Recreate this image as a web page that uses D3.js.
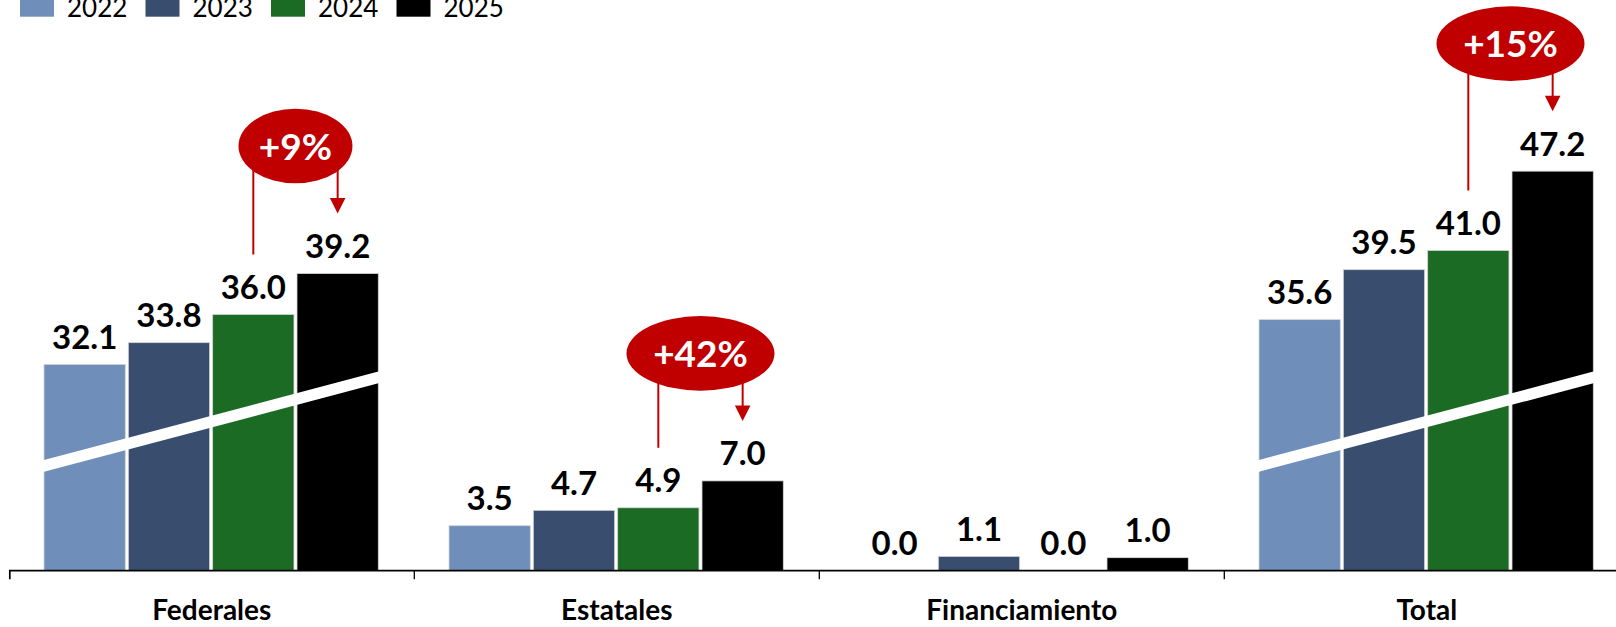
<!DOCTYPE html>
<html><head><meta charset="utf-8">
<script src="https://cdn.jsdelivr.net/npm/d3@7"></script>
<style>html,body{margin:0;padding:0;background:#fff;overflow:hidden}</style>
</head><body><svg id="chart" width="1616" height="627"></svg>
<script>
// ---- data ----
const categories = ["Federales", "Estatales", "Financiamiento", "Total"];
const years = ["2022", "2023", "2024", "2025"];
const values2022 = [32.1, 3.5, 0.0, 35.6];
const values2023 = [33.8, 4.7, 1.1, 39.5];
const values2024 = [36.0, 4.9, 0.0, 41.0];
const values2025 = [39.2, 7.0, 1.0, 47.2];
const growthLabels = ["+9%", "+42%", null, "+15%"];
const brokenCategories = ["Federales", "Total"];
const breakGap = 16; // units hidden by the axis break

const seriesValues = { "2022": values2022, "2023": values2023, "2024": values2024, "2025": values2025 };
const colors = { "2022": "#6F8FBA", "2023": "#394E6F", "2024": "#1B6B24", "2025": "#000000" };
const red = "#C00000";
const FONT = "Lato, 'Open Sans', sans-serif";

const svg = d3.select("#chart");
const W = 1616, H = 627;
const baseY = 570.5, pxPerUnit = 12.8;

const x0 = d3.scaleBand().domain(categories).range([9.3, 1629.3]);
const x1 = d3.scaleBand().domain(years).range([34.7, 369]).paddingInner(0.036);
const y = d3.scaleLinear().domain([0, 44]).range([baseY, baseY - 44 * pxPerUnit]);
const shown = (v, cat) => brokenCategories.includes(cat) ? v - breakGap : v;

const rows = [];
categories.forEach((c, ci) => years.forEach(yr => rows.push({ cat: c, year: yr, value: seriesValues[yr][ci] })));

// bars
svg.append("g").selectAll("rect").data(rows).join("rect")
  .attr("x", d => x0(d.cat) + x1(d.year))
  .attr("width", x1.bandwidth())
  .attr("y", d => y(shown(d.value, d.cat)))
  .attr("height", d => y(0) - y(shown(d.value, d.cat)))
  .attr("fill", d => colors[d.year])
  .attr("stroke", "#d4d4d4").attr("stroke-width", 0.8);

// axis break strips
const half = 5.85;
svg.append("g").selectAll("polygon").data(brokenCategories).join("polygon")
  .attr("points", c => {
    const xl = x0(c) + x1(years[0]) - 1, xr = x0(c) + x1(years[years.length - 1]) + x1.bandwidth() + 1;
    const yl = y(8.16), yr = y(15.1);
    return [[xl, yl - half], [xr, yr - half], [xr, yr + half], [xl, yl + half]].map(p => p.join(",")).join(" ");
  })
  .attr("fill", "#fff");

// value labels
svg.append("g").selectAll("text").data(rows).join("text")
  .attr("x", d => x0(d.cat) + x1(d.year) + x1.bandwidth() / 2)
  .attr("y", d => y(shown(d.value, d.cat)) - 15.5)
  .attr("text-anchor", "middle")
  .style("font-family", FONT).style("font-weight", "bold").style("font-size", "33px")
  .attr("fill", "#000")
  .text(d => d3.format(".1f")(d.value));

// axis
const axis = d3.axisBottom(x0).tickSizeInner(0).tickSizeOuter(9).tickPadding(0);
const ag = svg.append("g").attr("transform", `translate(0,${570.2})`).call(axis);
ag.select(".domain").attr("stroke", "#000").attr("stroke-width", 1.7);
ag.selectAll(".tick text").attr("y", 49.8).attr("dy", 0)
  .style("font-family", FONT).style("font-weight", "bold").style("font-size", "28px").attr("fill", "#000");
ag.selectAll(".tick line").remove();
ag.append("g").selectAll("line").data(categories.slice(1)).join("line")
  .attr("x1", c => x0(c)).attr("x2", c => x0(c))
  .attr("y1", 0).attr("y2", 9)
  .attr("stroke", "#000").attr("stroke-width", 1.3);

// growth annotations
const ann = svg.append("g");
categories.forEach((c, ci) => {
  const lbl = growthLabels[ci];
  if (!lbl) return;
  const bw = x1.bandwidth();
  const xa = x0(c) + x1("2024") + bw / 2, xb = x0(c) + x1("2025") + bw / 2;
  const endA = y(shown(values2024[ci], c)) - 60;
  const tip = y(shown(values2025[ci], c)) - 60;
  const cy = tip - 67.5, cx = (xa + xb) / 2;
  const rx = lbl.length > 3 ? 74 : 57, ry = 37.3;
  ann.append("line").attr("x1", xa).attr("x2", xa).attr("y1", cy).attr("y2", endA)
    .attr("stroke", red).attr("stroke-width", 2);
  ann.append("line").attr("x1", xb).attr("x2", xb).attr("y1", cy).attr("y2", tip - 14)
    .attr("stroke", red).attr("stroke-width", 2);
  ann.append("polygon").attr("points", `${xb - 7.8},${tip - 15.5} ${xb + 7.8},${tip - 15.5} ${xb},${tip}`)
    .attr("fill", red);
  ann.append("ellipse").attr("cx", cx).attr("cy", cy).attr("rx", rx).attr("ry", ry).attr("fill", red);
  ann.append("text").attr("x", cx).attr("y", cy + 13.5).attr("text-anchor", "middle")
    .style("font-family", FONT).style("font-weight", "bold").style("font-size", "37px")
    .attr("fill", "#fff").text(lbl);
});

// legend
const lg = svg.append("g").selectAll("g").data(years).join("g")
  .attr("transform", (d, i) => `translate(${20 + i * 125.5},0)`);
lg.append("rect").attr("x", 0).attr("y", -12).attr("width", 34).attr("height", 28.7).attr("fill", d => colors[d]);
lg.append("text").attr("x", 47).attr("y", 17)
  .style("font-family", FONT).style("font-size", "26px").attr("fill", "#000").text(d => d);
</script></body></html>
